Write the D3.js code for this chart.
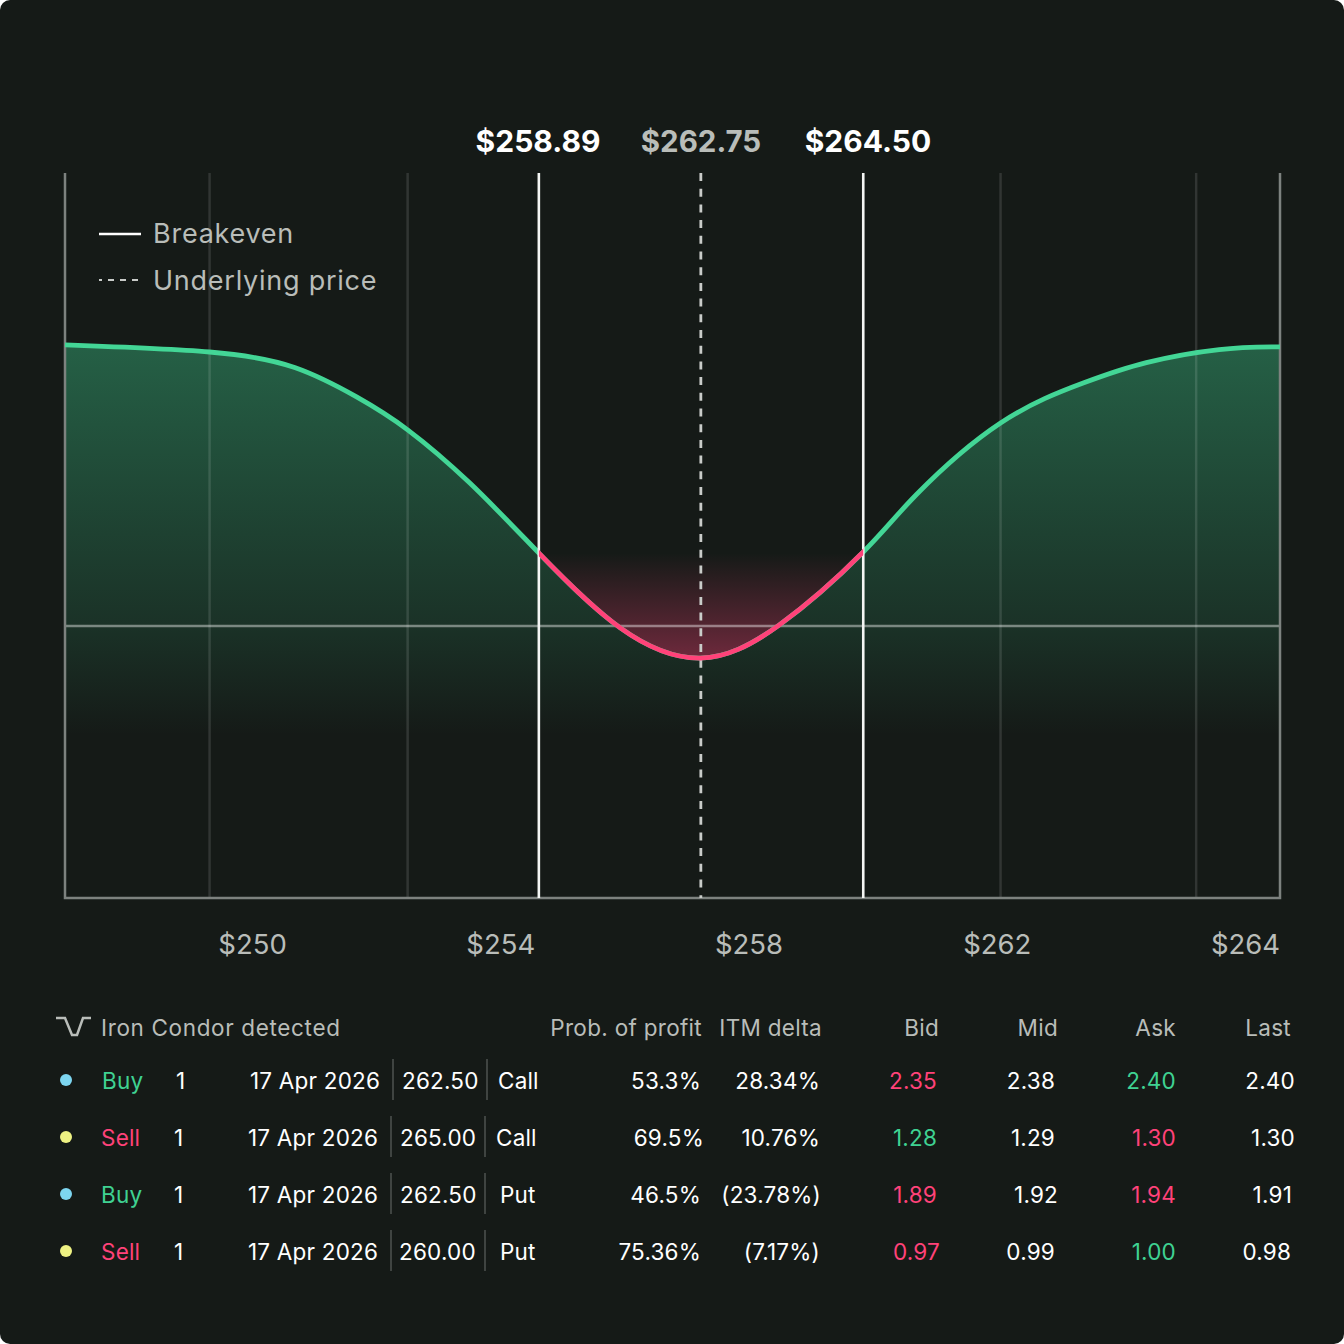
<!DOCTYPE html>
<html>
<head>
<meta charset="utf-8">
<script src="https://cdn.jsdelivr.net/npm/d3@7"></script>
<style>
  html, body { margin: 0; padding: 0; background: #ffffff; }
  svg { display: block; }
  text { font-family: "Inter", "Noto Sans", sans-serif; }
</style>
</head>
<body>
<div id="chart"></div>
<script>
var width = 1344
var height = 1344

// payoff curve: position along the axis (%) and P/L
var curveX = [0, 11.9, 18.9, 24.0, 28.2, 33.3, 39.0, 45.7, 52.3, 58.8, 65.7, 70.1, 77.0, 83.8, 89.0, 95.0, 100]
var curveY = [103.3, 100.7, 95.0, 84.2, 72.1, 52.6, 26.8, -0.7, -11.8, 0.4, 27.2, 48.4, 74.6, 89.3, 96.8, 101.6, 102.6]
var lossBase = 26.8
var lossLow = -11.8

var gridPos = [11.9, 28.2, 77.0, 93.1]
var breakevenPos = [39.0, 65.7]
var breakevenLabels = ["$258.89", "$264.50"]
var spotPos = 52.3
var spotLabel = "$262.75"
var tickLabels = ["$250", "$254", "$258", "$262", "$264"]

var legendLabels = ["Breakeven", "Underlying price"]
var strategyLabel = "Iron Condor detected"

var headers = ["Prob. of profit", "ITM delta", "Bid", "Mid", "Ask", "Last"]
var sides = ["Buy", "Sell", "Buy", "Sell"]
var qty = ["1", "1", "1", "1"]
var expiries = ["17 Apr 2026", "17 Apr 2026", "17 Apr 2026", "17 Apr 2026"]
var strikes = ["262.50", "265.00", "262.50", "260.00"]
var types = ["Call", "Call", "Put", "Put"]
var probs = ["53.3%", "69.5%", "46.5%", "75.36%"]
var deltas = ["28.34%", "10.76%", "(23.78%)", "(7.17%)"]
var bids = ["2.35", "1.28", "1.89", "0.97"]
var mids = ["2.38", "1.29", "1.92", "0.99"]
var asks = ["2.40", "1.30", "1.94", "1.00"]
var lasts = ["2.40", "1.30", "1.91", "0.98"]
var bidTone = ["down", "up", "down", "down"]
var askTone = ["up", "down", "down", "up"]

const bg = "#151a17"
const green = "#43d696"
const pink = "#ff4279"
const muted = "#b9bdb9"
const white = "#ffffff"
const toneColor = { up: "#3fd292", down: pink }

var points = curveX.map(function(d, i) { return { x: d, y: curveY[i] }; })

var x = d3.scaleLinear().domain([0, 100]).range([65, 1280])
var y = d3.scaleLinear().domain([-100, 166.5]).range([898, 173])

var svg = d3.select("#chart").append("svg")
    .attr("width", width)
    .attr("height", height)

svg.append("rect")
    .attr("width", width)
    .attr("height", height)
    .attr("rx", 10)
    .attr("fill", bg)

var defs = svg.append("defs")

var greenGrad = defs.append("linearGradient")
    .attr("id", "greenFill")
    .attr("gradientUnits", "userSpaceOnUse")
    .attr("x1", 0).attr("x2", 0)
    .attr("y1", 345).attr("y2", 735)
greenGrad.append("stop").attr("offset", 0).attr("stop-color", "#3fd292").attr("stop-opacity", 0.38)
greenGrad.append("stop").attr("offset", 0.72).attr("stop-color", "#3fd292").attr("stop-opacity", 0.13)
greenGrad.append("stop").attr("offset", 1).attr("stop-color", "#3fd292").attr("stop-opacity", 0)

var pinkGrad = defs.append("linearGradient")
    .attr("id", "pinkFill")
    .attr("gradientUnits", "userSpaceOnUse")
    .attr("x1", 0).attr("x2", 0)
    .attr("y1", y(lossBase)).attr("y2", y(lossLow))
pinkGrad.append("stop").attr("offset", 0).attr("stop-color", pink).attr("stop-opacity", 0)
pinkGrad.append("stop").attr("offset", 1).attr("stop-color", pink).attr("stop-opacity", 0.38)

// the stretch between the two breakevens
defs.append("clipPath")
    .attr("id", "lossClip")
    .append("rect")
    .attr("x", x(breakevenPos[0]))
    .attr("width", x(breakevenPos[1]) - x(breakevenPos[0]))
    .attr("y", y.range()[1])
    .attr("height", y.range()[0] - y.range()[1])

var curve = d3.curveNatural

var area = d3.area()
    .x(function(d) { return x(d.x); })
    .y0(y(-100))
    .y1(function(d) { return y(d.y); })
    .curve(curve)

var lossArea = d3.area()
    .x(function(d) { return x(d.x); })
    .y0(y(lossBase))
    .y1(function(d) { return y(d.y); })
    .curve(curve)

var line = d3.line()
    .x(function(d) { return x(d.x); })
    .y(function(d) { return y(d.y); })
    .curve(curve)

svg.append("path").attr("d", area(points)).attr("fill", "url(#greenFill)")
svg.append("path").attr("d", lossArea(points)).attr("fill", "url(#pinkFill)").attr("clip-path", "url(#lossClip)")

// grid
svg.selectAll(".grid")
    .data(gridPos)
    .enter().append("line")
    .attr("class", "grid")
    .attr("x1", x).attr("x2", x)
    .attr("y1", y.range()[1]).attr("y2", y.range()[0])
    .attr("stroke", "#ffffff")
    .attr("stroke-opacity", 0.12)
    .attr("stroke-width", 2.5)

// zero line
svg.append("line")
    .attr("x1", x(0)).attr("x2", x(100))
    .attr("y1", y(0)).attr("y2", y(0))
    .attr("stroke", "#ffffff")
    .attr("stroke-opacity", 0.42)
    .attr("stroke-width", 2.5)

// frame
svg.append("path")
    .attr("d", "M" + x(0) + "," + y.range()[1] + "V" + y.range()[0] + "H" + x(100) + "V" + y.range()[1])
    .attr("fill", "none")
    .attr("stroke", "#7d827f")
    .attr("stroke-width", 2.5)

// payoff line
svg.append("path").attr("d", line(points)).attr("fill", "none").attr("stroke", green).attr("stroke-width", 4.8)

// breakevens
svg.selectAll(".be")
    .data(breakevenPos)
    .enter().append("line")
    .attr("class", "be")
    .attr("x1", x).attr("x2", x)
    .attr("y1", y.range()[1]).attr("y2", y.range()[0])
    .attr("stroke", "#f4f6f4")
    .attr("stroke-width", 2.6)

svg.append("line")
    .attr("x1", x(spotPos) + 0.4).attr("x2", x(spotPos) + 0.4)
    .attr("y1", y.range()[1]).attr("y2", y.range()[0])
    .attr("stroke", "#c9ccc9")
    .attr("stroke-width", 2.8)
    .attr("stroke-dasharray", "8 7.7")

svg.append("path")
    .attr("d", line(points))
    .attr("fill", "none")
    .attr("stroke", pink)
    .attr("stroke-width", 4.8)
    .attr("clip-path", "url(#lossClip)")

// top labels
var topLabelX = [538, 868]
svg.selectAll(".be-label")
    .data(breakevenLabels)
    .enter().append("text")
    .attr("class", "be-label")
    .attr("x", function(d, i) { return topLabelX[i]; })
    .attr("y", 151.5)
    .attr("text-anchor", "middle")
    .attr("font-size", 30)
    .attr("font-weight", 700)
    .attr("fill", white)
    .text(function(d) { return d; })

svg.append("text")
    .attr("x", 701)
    .attr("y", 151.5)
    .attr("text-anchor", "middle")
    .attr("font-size", 29.5)
    .attr("font-weight", 700)
    .attr("fill", muted)
    .text(spotLabel)

// x axis labels
var xTicks = d3.scalePoint().domain(tickLabels).range([252, 1245])
var axis = svg.append("g")
    .attr("transform", "translate(0,898)")
    .call(d3.axisBottom(xTicks).tickSize(0).tickPadding(36))
axis.select(".domain").remove()
axis.selectAll("text")
    .attr("font-size", 27.5)
    .attr("font-family", "Inter")
    .attr("fill", muted)

// legend
svg.append("line").attr("x1", 99).attr("x2", 141).attr("y1", 234).attr("y2", 234)
    .attr("stroke", white).attr("stroke-width", 2.6)
svg.append("line").attr("x1", 99).attr("x2", 141).attr("y1", 280).attr("y2", 280)
    .attr("stroke", "#c9ccc9").attr("stroke-width", 2).attr("stroke-dasharray", "6 6").attr("stroke-dashoffset", 3)
svg.selectAll(".legend")
    .data(legendLabels)
    .enter().append("text")
    .attr("class", "legend")
    .attr("x", 153)
    .attr("y", function(d, i) { return 243 + i * 47; })
    .attr("font-size", 27)
    .attr("letter-spacing", 0.75)
    .attr("fill", muted)
    .text(function(d) { return d; })

// table header
var icon = d3.line()
svg.append("path")
    .attr("d", icon([[56, 1018], [65, 1018], [72, 1035], [77, 1035], [83, 1018], [91, 1018]]))
    .attr("fill", "none")
    .attr("stroke", muted)
    .attr("stroke-width", 2.5)
svg.append("text")
    .attr("x", 101).attr("y", 1036)
    .attr("font-size", 22.5)
    .attr("letter-spacing", 0.65)
    .attr("fill", muted)
    .text(strategyLabel)

var headerRight = [702, 822, 939, 1058, 1176, 1291]
svg.selectAll(".head")
    .data(headers)
    .enter().append("text")
    .attr("class", "head")
    .attr("x", function(d, i) { return headerRight[i]; })
    .attr("y", 1036)
    .attr("text-anchor", "end")
    .attr("font-size", 22.5)
    .attr("letter-spacing", 0.3)
    .attr("fill", muted)
    .text(function(d) { return d; })

// table rows
var rowY = [1089, 1146, 1203, 1260]
var sideColor = { Buy: "#3fd292", Sell: pink }
var dotColor = { Buy: "#7dd6f0", Sell: "#eef283" }

var rows = svg.selectAll(".row")
    .data(sides)
    .enter().append("g")
    .attr("class", "row")
    .attr("transform", function(d, i) { return "translate(0," + rowY[i] + ")"; })

rows.append("circle")
    .attr("cx", 66).attr("cy", -9).attr("r", 6)
    .attr("fill", function(d) { return dotColor[d]; })

function cell(values, xs, anchor, color) {
  rows.append("text")
      .attr("x", function(d, i) { return xs[i]; })
      .attr("text-anchor", anchor)
      .attr("font-size", 22.5)
      .attr("letter-spacing", 0.2)
      .attr("fill", color)
      .text(function(d, i) { return values[i]; })
}

cell(sides, [102, 101, 101, 101], "start", function(d) { return sideColor[d]; })
cell(qty, [176, 174, 174, 174], "start", white)
cell(expiries, [250, 248, 248, 248], "start", white)
cell(strikes, [402, 400, 400, 399], "start", white)
cell(types, [498, 496, 500, 500], "start", white)
cell(probs, [701, 704, 701, 701], "end", white)
cell(deltas, [820, 820, 821, 820], "end", white)
cell(bids, [937, 937, 937, 940], "end", function(d, i) { return toneColor[bidTone[i]]; })
cell(mids, [1055, 1055, 1058, 1055], "end", white)
cell(asks, [1176, 1176, 1176, 1176], "end", function(d, i) { return toneColor[askTone[i]]; })
cell(lasts, [1295, 1295, 1292, 1291], "end", white)

// cell dividers
var dividerX = [[393, 487], [391, 485], [391, 485], [391, 485]]
rows.each(function(d, i) {
  d3.select(this).selectAll("line")
      .data(dividerX[i])
      .enter().append("line")
      .attr("x1", function(v) { return v; })
      .attr("x2", function(v) { return v; })
      .attr("y1", -30).attr("y2", 11)
      .attr("stroke", "#3f4441")
      .attr("stroke-width", 2)
})
</script>
</body>
</html>
